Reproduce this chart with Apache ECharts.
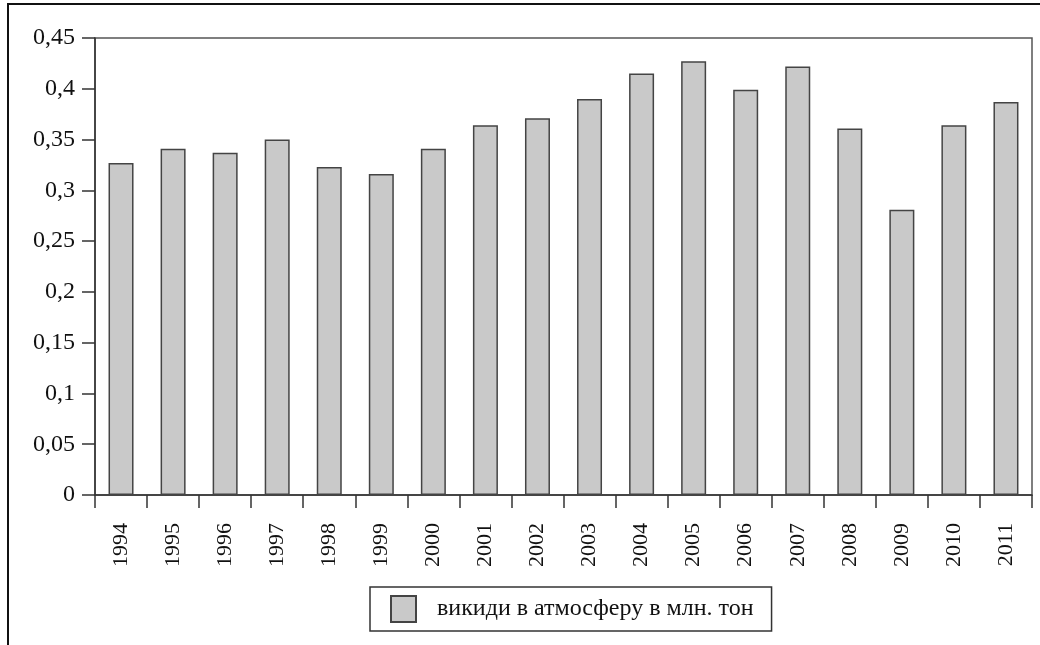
<!DOCTYPE html>
<html>
<head>
<meta charset="utf-8">
<script src="https://cdn.jsdelivr.net/npm/echarts@6/dist/echarts.min.js"></script>
<style>
html,body{margin:0;padding:0;background:#fff;}
#chart{width:1040px;height:645px;}
</style>
</head>
<body>
<div id="chart"></div>
<script>
const years = ['1994','1995','1996','1997','1998','1999','2000','2001','2002','2003','2004','2005','2006','2007','2008','2009','2010','2011'];
const emissions = [0.327,0.341,0.337,0.350,0.323,0.316,0.341,0.364,0.371,0.390,0.415,0.427,0.399,0.422,0.361,0.281,0.364,0.387];
const seriesName = 'викиди в атмосферу в млн. тон';

const chart = echarts.init(document.getElementById('chart'), null, {renderer:'canvas'});
const font = '"Liberation Serif", "DejaVu Serif", serif';
chart.setOption({
  backgroundColor:'#fff',
  animation:false,
  graphic:[{
    type:'rect', shape:{x:8, y:4, width:1100, height:700},
    style:{fill:'none', stroke:'#111', lineWidth:2}, z:-1
  }],
  grid:{left:95, right:8, top:38, bottom:150, show:true, borderColor:'#555', borderWidth:1.5, backgroundColor:'transparent'},
  legend:{
    left:370, top:587,
    padding:[8,18,8,20],
    borderColor:'#333', borderWidth:1.5,
    itemWidth:25, itemHeight:26,
    icon:'rect',
    textStyle:{fontFamily:font, fontSize:24, color:'#111', padding:[0,0,0,16]},
    data:[seriesName]
  },
  xAxis:{
    type:'category', data:years,
    axisLine:{lineStyle:{color:'#333', width:1.5}},
    axisTick:{show:true, length:13, lineStyle:{color:'#333', width:1.5}},
    axisLabel:{rotate:90, margin:28, fontFamily:font, fontSize:22, color:'#111', interval:0}
  },
  yAxis:{
    type:'value', min:0, max:0.45, interval:0.05,
    splitLine:{show:false},
    axisLine:{show:true, lineStyle:{color:'#333', width:1.5}},
    axisTick:{show:true, length:13, lineStyle:{color:'#333', width:1.5}},
    axisLabel:{margin:20, fontFamily:font, fontSize:24, color:'#111',
      formatter:function(v){return parseFloat(v.toFixed(2)).toString().replace('.', ',');}}
  },
  series:[{
    name:seriesName, type:'bar', data:emissions, barWidth:25,
    itemStyle:{color:'#c9c9c9', borderColor:'#444', borderWidth:1.5}
  }]
});
</script>
</body>
</html>
